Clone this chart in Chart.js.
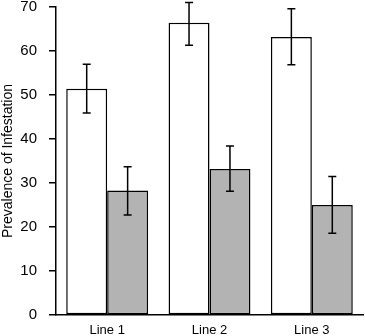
<!DOCTYPE html>
<html>
<head>
<meta charset="utf-8">
<script src="https://cdn.jsdelivr.net/npm/chart.js@4"></script>
<style>
  html, body { margin: 0; padding: 0; background: #fff; }
  #wrap { width: 365px; height: 336px; }
</style>
</head>
<body>
<div id="wrap"><canvas id="prevChart"></canvas></div>
<script>
const categories = ["Line 1", "Line 2", "Line 3"];
const whiteValues = [51.4, 66.4, 63.2];
const whiteLow = [45.9, 61.3, 56.9];
const whiteHigh = [57.0, 71.0, 69.6];
const grayValues = [28.3, 33.2, 25.0];
const grayLow = [22.7, 28.1, 18.6];
const grayHigh = [33.7, 38.4, 31.5];
const yTicks = [0, 10, 20, 30, 40, 50, 60, 70];

// error bars drawn from the low/high arrays through the y scale
const errorBars = {
  id: "errorBars",
  afterDatasetsDraw(chart) {
    const ctx = chart.ctx;
    const y = chart.scales.y;
    chart.data.datasets.forEach((ds, i) => {
      const meta = chart.getDatasetMeta(i);
      meta.data.forEach((bar, j) => {
        const top = y.getPixelForValue(ds.errHigh[j]);
        const bot = y.getPixelForValue(ds.errLow[j]);
        ctx.save();
        ctx.strokeStyle = "#000";
        ctx.lineWidth = 1.5;
        ctx.beginPath();
        ctx.moveTo(bar.x, top);
        ctx.lineTo(bar.x, bot);
        ctx.moveTo(bar.x - 4, top);
        ctx.lineTo(bar.x + 4, top);
        ctx.moveTo(bar.x - 4, bot);
        ctx.lineTo(bar.x + 4, bot);
        ctx.stroke();
        ctx.restore();
      });
    });
  },
};

const ctx = document.getElementById("prevChart").getContext("2d");
new Chart(ctx, {
  type: "bar",
  data: {
    labels: categories,
    datasets: [
      {
        label: "white",
        data: whiteValues,
        errLow: whiteLow,
        errHigh: whiteHigh,
        backgroundColor: "#ffffff",
        borderColor: "#000000",
        borderWidth: 1.5,
        borderSkipped: false,
        categoryPercentage: 0.8,
        barPercentage: 1.0,
      },
      {
        label: "gray",
        data: grayValues,
        errLow: grayLow,
        errHigh: grayHigh,
        backgroundColor: "#b3b3b3",
        borderColor: "#000000",
        borderWidth: 1.5,
        borderSkipped: false,
        categoryPercentage: 0.8,
        barPercentage: 1.0,
      },
    ],
  },
  options: {
    responsive: true,
    maintainAspectRatio: false,
    animation: false,
    layout: { padding: { top: 0, right: 2, left: 0, bottom: 0 } },
    plugins: {
      legend: { display: false },
      tooltip: { enabled: false },
    },
    scales: {
      x: {
        grid: { display: false, drawTicks: false },
        border: { display: true, color: "#000", width: 1.5 },
        ticks: {
          color: "#000",
          padding: 8,
          font: { family: "Liberation Sans, Arial", size: 13 },
        },
        afterFit(scale) { scale.height = 21; },
      },
      y: {
        min: 0,
        max: 70,
        afterBuildTicks(scale) { scale.ticks = yTicks.map((v) => ({ value: v })); },
        grid: {
          display: true,
          drawOnChartArea: false,
          drawTicks: true,
          tickLength: 7,
          color: "#000",
          lineWidth: 1.5,
        },
        border: { display: true, color: "#000", width: 1.5 },
        ticks: {
          color: "#000",
          padding: 12,
          font: { family: "Liberation Sans, Arial", size: 15 },
        },
        title: {
          display: true,
          text: "Prevalence of Infestation",
          color: "#000",
          padding: { top: 0, bottom: 2 },
          font: { family: "Liberation Sans, Arial", size: 14 },
        },
        afterFit(scale) {
          scale.width = 56;
          scale.paddingTop = 7;
          scale.paddingBottom = 0;
        },
      },
    },
  },
  plugins: [errorBars],
});
</script>
</body>
</html>
